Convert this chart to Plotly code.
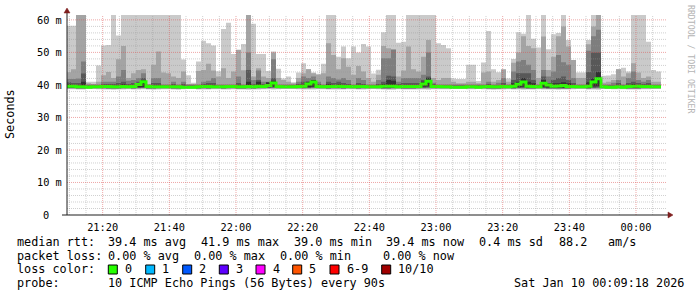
import plotly.graph_objects as go
import pandas as pd

# ---------------- data (ms), one value per 90 s step ----------------
p10 = [58.2, 58.2, 62, 62, 41.0, 41.0, 46.0, 52.1, 52.3, 62,
       55.2, 62, 62, 62, 62, 62, 62, 62, 62, 62,
       62, 62, 62, 47.8, 43.0, 40.7, 47.2, 53.6, 52.8, 52.1,
       44.2, 57.2, 59.1, 49.5, 50.5, 52.6, 62, 58.8, 49.5, 49.5,
       44.3, 50.3, 45.0, 42.0, 42.6, 40.8, 43.8, 46.7, 44.9, 43.8,
       43.4, 46.5, 62, 62, 48.7, 51.8, 48.2, 51.8, 50.0, 52.6,
       51.8, 43.5, 44.7, 56.2, 62, 62, 53.0, 53.3, 62, 62,
       62, 62, 62, 62, 52.8, 52.3, 51.3, 42.0, 41.8, 41.8,
       46.2, 46.2, 41.2, 46.9, 56.6, 44.8, 43.9, 44.6, 42.0, 48.0,
       56.2, 55.7, 62, 54.2, 51.5, 62, 51.0, 55.6, 56.0, 62,
       53.8, 47.7, 43.8, 43.8, 53.8, 62, 62, 42.8, 42.9, 43.3,
       44.9, 45.3, 44.1, 62, 62, 62, 53.3, 44.6, 44.1]
p9 = [43.9, 44.8, 61.5, 61.5, 40.5, 40.3, 41.0, 43.0, 44.0, 42.1,
      47.9, 52.0, 42.1, 43.6, 44.6, 44.8, 40.2, 46.2, 50.3, 43.8,
      43.6, 42.6, 42.1, 44.1, 40.3, 40.2, 44.3, 44.6, 46.5, 44.4,
      42.6, 45.1, 42.1, 44.1, 50.8, 44.5, 61.5, 42.6, 45.1, 42.6,
      42.1, 50.0, 42.1, 41.5, 41.0, 40.5, 42.1, 43.6, 44.8, 43.6,
      43.1, 43.6, 52.8, 49.2, 44.8, 48.2, 45.6, 43.1, 45.8, 44.1,
      42.1, 41.0, 43.1, 52.0, 51.3, 51.0, 42.6, 44.4, 51.8, 44.8,
      44.1, 48.7, 53.8, 42.1, 41.5, 42.1, 42.1, 41.0, 40.5, 40.5,
      41.0, 41.0, 40.5, 43.8, 44.1, 41.0, 41.5, 44.8, 41.0, 46.8,
      50.0, 55.0, 52.0, 51.3, 42.1, 54.9, 44.6, 48.7, 55.0, 58.0,
      51.8, 47.7, 42.1, 42.1, 52.5, 58.0, 61.5, 40.7, 41.0, 41.5,
      44.8, 42.6, 43.6, 46.7, 43.8, 42.1, 42.6, 41.0, 41.0]
p8 = [41.8, 41.8, 42.0, 47.2, 40.1, 40.1, 40.1, 41.0, 41.0, 41.0,
      42.6, 44.6, 41.3, 41.5, 42.1, 43.6, 40.1, 42.1, 42.1, 40.1,
      40.1, 41.0, 40.1, 41.0, 40.1, 40.1, 40.1, 41.0, 41.3, 42.1,
      40.1, 40.1, 40.1, 40.1, 42.6, 40.1, 50.0, 41.5, 44.4, 41.0,
      41.0, 47.9, 40.1, 40.1, 40.1, 40.1, 41.0, 42.6, 42.1, 42.6,
      41.0, 40.1, 42.6, 42.1, 41.7, 42.1, 41.5, 40.1, 42.1, 41.5,
      40.1, 40.1, 41.5, 48.2, 48.2, 50.8, 41.0, 42.1, 42.1, 42.1,
      42.1, 43.1, 50.0, 40.7, 40.1, 40.1, 40.1, 40.1, 40.1, 40.1,
      40.1, 40.1, 40.1, 40.1, 41.0, 40.1, 40.7, 42.1, 40.1, 44.1,
      47.2, 47.7, 46.2, 44.6, 40.1, 44.6, 42.6, 44.1, 49.2, 47.0,
      46.2, 42.1, 40.1, 40.1, 50.5, 55.0, 57.0, 40.1, 40.1, 40.7,
      41.5, 40.1, 42.1, 44.1, 41.5, 41.0, 41.5, 40.1, 40.1]
p7 = [40.8, 40.6, 40.6, 43.5, 39.85, 39.85, 39.85, 40.3, 40.3, 40.3,
      40.6, 41.0, 40.3, 40.6, 41.0, 42.1, 39.85, 40.6, 40.6, 39.85,
      39.85, 40.3, 39.85, 40.3, 39.85, 39.85, 39.85, 40.3, 40.6, 40.6,
      39.85, 39.85, 39.85, 39.85, 40.6, 39.85, 44.6, 40.3, 41.5, 40.3,
      40.6, 42.1, 39.85, 39.85, 39.85, 39.85, 40.3, 41.0, 41.0, 41.3,
      40.3, 39.85, 41.0, 40.6, 41.0, 40.6, 40.3, 39.85, 40.6, 40.3,
      39.85, 39.85, 40.3, 41.0, 42.8, 42.6, 40.3, 40.6, 40.6, 40.6,
      40.6, 41.5, 42.6, 40.3, 39.85, 39.85, 39.85, 39.85, 39.85, 39.85,
      39.85, 39.85, 39.85, 39.85, 40.3, 39.85, 39.85, 40.6, 39.85, 41.5,
      43.6, 43.6, 43.6, 41.5, 39.85, 42.6, 40.6, 41.5, 42.1, 42.6,
      41.5, 40.6, 39.85, 39.85, 44.0, 50.0, 50.0, 39.85, 39.85, 39.85,
      40.6, 39.85, 40.6, 41.0, 40.6, 40.3, 40.6, 39.85, 39.85]
p6 = [40.2, 39.8, 39.8, 41.0, 39.7, 39.7, 39.7, 39.7, 39.7, 39.7,
      39.8, 40.2, 39.7, 39.8, 40.5, 41.5, 39.7, 39.8, 39.8, 39.7,
      39.7, 39.7, 39.7, 39.7, 39.7, 39.7, 39.7, 39.7, 39.8, 39.8,
      39.7, 39.7, 39.7, 39.7, 39.8, 39.7, 41.0, 39.7, 41.0, 39.7,
      40.8, 41.3, 39.7, 39.7, 39.7, 39.7, 39.7, 40.2, 41.0, 41.5,
      39.7, 39.7, 40.2, 39.8, 40.2, 39.8, 39.7, 39.7, 39.8, 39.7,
      39.7, 39.7, 39.7, 40.3, 41.5, 41.3, 39.7, 39.8, 39.8, 39.8,
      39.8, 41.0, 42.1, 39.7, 39.7, 39.7, 39.7, 39.7, 39.7, 39.7,
      39.7, 39.7, 39.7, 39.7, 39.7, 39.7, 39.7, 39.8, 39.7, 40.5,
      41.0, 42.1, 41.0, 40.5, 39.7, 41.5, 40.5, 40.5, 40.5, 40.8,
      40.5, 39.7, 39.7, 39.7, 40.8, 42.0, 44.0, 39.7, 39.7, 39.7,
      39.7, 39.7, 39.8, 40.3, 39.8, 39.7, 39.8, 39.7, 39.7]
median = [39.6, 39.6, 39.4, 39.4, 39.3, 39.4, 39.4, 39.5, 39.5, 39.4,
          39.4, 39.5, 39.4, 39.5, 40.1, 41.0, 39.5, 39.4, 39.4, 39.4,
          39.4, 39.4, 39.4, 39.3, 39.3, 39.3, 39.4, 39.5, 39.5, 39.4,
          39.4, 39.4, 39.5, 39.5, 39.4, 39.4, 39.5, 39.4, 39.6, 39.5,
          39.8, 40.6, 39.5, 39.4, 39.4, 39.4, 39.5, 39.6, 40.3, 40.9,
          39.5, 39.4, 39.5, 39.5, 39.6, 39.5, 39.5, 39.4, 39.5, 39.5,
          39.4, 39.4, 39.4, 39.6, 39.6, 39.6, 39.4, 39.5, 39.5, 39.5,
          39.5, 40.3, 41.1, 39.5, 39.5, 39.4, 39.4, 39.3, 39.3, 39.3,
          39.4, 39.4, 39.3, 39.4, 39.5, 39.4, 39.4, 39.5, 39.4, 39.6,
          40.2, 40.9, 39.6, 39.5, 39.4, 40.5, 40.0, 39.6, 39.7, 39.8,
          39.5, 39.5, 39.4, 39.4, 39.6, 40.9, 41.9, 39.4, 39.3, 39.3,
          39.4, 39.3, 39.5, 39.6, 39.6, 39.5, 39.5, 39.4, 39.4]
p5 = [39.2, 39.2, 39.1, 39.1, 39.2, 39.2, 39.2, 39.2, 39.1, 39.1,
      39.1, 39.2, 39.2, 39.1, 39.3, 39.3, 39.1, 39.1, 39.2, 39.2,
      39.2, 39.1, 39.1, 39.2, 39.2, 39.2, 39.1, 39.2, 39.1, 39.2,
      39.2, 39.1, 39.2, 39.2, 39.1, 39.1, 39.2, 39.1, 39.2, 39.2,
      39.3, 39.4, 39.2, 39.2, 39.2, 39.2, 39.2, 39.2, 39.3, 39.4,
      39.2, 39.2, 39.1, 39.2, 39.2, 39.1, 39.2, 39.2, 39.1, 39.2,
      39.2, 39.2, 39.2, 39.1, 39.1, 39.2, 39.2, 39.1, 39.1, 39.1,
      39.2, 39.4, 39.5, 39.2, 39.2, 39.2, 39.2, 39.2, 39.2, 39.2,
      39.2, 39.2, 39.2, 39.2, 39.1, 39.1, 39.1, 39.2, 39.2, 39.1,
      39.3, 39.4, 39.1, 39.1, 39.2, 39.3, 39.2, 39.1, 39.1, 39.1,
      39.1, 39.2, 39.2, 39.2, 39.1, 39.5, 39.6, 39.2, 39.2, 39.2,
      39.2, 39.2, 39.1, 39.1, 39.1, 39.2, 39.2, 39.2, 39.2]
p4 = [39.1, 39.1, 39.0, 39.0, 39.1, 39.1, 39.1, 39.1, 39.0, 39.0,
      39.0, 39.1, 39.1, 39.0, 39.1, 39.2, 39.0, 39.0, 39.1, 39.1,
      39.1, 39.0, 39.0, 39.1, 39.1, 39.1, 39.0, 39.1, 39.0, 39.1,
      39.1, 39.0, 39.1, 39.1, 39.0, 39.0, 39.1, 39.0, 39.1, 39.1,
      39.2, 39.2, 39.1, 39.1, 39.1, 39.1, 39.1, 39.1, 39.1, 39.2,
      39.1, 39.1, 39.0, 39.1, 39.1, 39.0, 39.1, 39.1, 39.0, 39.1,
      39.1, 39.1, 39.1, 39.0, 39.0, 39.1, 39.1, 39.0, 39.0, 39.0,
      39.1, 39.1, 39.2, 39.1, 39.1, 39.1, 39.1, 39.1, 39.1, 39.1,
      39.1, 39.1, 39.1, 39.1, 39.0, 39.0, 39.0, 39.1, 39.1, 39.0,
      39.1, 39.1, 39.0, 39.0, 39.1, 39.1, 39.0, 39.0, 39.0, 39.0,
      39.0, 39.1, 39.1, 39.1, 39.0, 39.1, 39.2, 39.1, 39.1, 39.1,
      39.1, 39.1, 39.0, 39.0, 39.0, 39.1, 39.1, 39.1, 39.1]
p3 = [39.0, 39.0, 38.9, 38.9, 39.0, 39.0, 39.0, 39.0, 38.9, 38.9,
      38.9, 39.0, 39.0, 38.9, 39.0, 39.1, 38.9, 38.9, 39.0, 39.0,
      39.0, 38.9, 38.9, 39.0, 39.0, 39.0, 38.9, 39.0, 38.9, 39.0,
      39.0, 38.9, 39.0, 39.0, 38.9, 38.9, 39.0, 38.9, 39.0, 39.0,
      39.1, 39.1, 39.0, 39.0, 39.0, 39.0, 39.0, 39.0, 39.0, 39.1,
      39.0, 39.0, 38.9, 39.0, 39.0, 38.9, 39.0, 39.0, 38.9, 39.0,
      39.0, 39.0, 39.0, 38.9, 38.9, 39.0, 39.0, 38.9, 38.9, 38.9,
      39.0, 39.0, 39.1, 39.0, 39.0, 39.0, 39.0, 39.0, 39.0, 39.0,
      39.0, 39.0, 39.0, 39.0, 38.9, 38.9, 38.9, 39.0, 39.0, 38.9,
      39.0, 39.0, 38.9, 38.9, 39.0, 39.0, 38.9, 38.9, 38.9, 38.9,
      38.9, 39.0, 39.0, 39.0, 38.9, 39.0, 39.1, 39.0, 39.0, 39.0,
      39.0, 39.0, 38.9, 38.9, 38.9, 39.0, 39.0, 39.0, 39.0]
p2 = [38.9, 38.9, 38.8, 38.8, 38.9, 38.9, 38.9, 38.8, 38.8, 38.8,
      38.8, 38.8, 38.9, 38.8, 38.9, 38.9, 38.8, 38.8, 38.8, 38.9,
      38.9, 38.8, 38.8, 38.9, 38.9, 38.9, 38.8, 38.8, 38.8, 38.9,
      38.9, 38.8, 38.8, 38.9, 38.8, 38.8, 38.8, 38.8, 38.9, 38.9,
      38.9, 38.9, 38.9, 38.9, 38.9, 38.9, 38.9, 38.8, 38.9, 38.9,
      38.9, 38.9, 38.8, 38.8, 38.8, 38.8, 38.9, 38.9, 38.8, 38.8,
      38.9, 38.9, 38.9, 38.8, 38.8, 38.8, 38.9, 38.8, 38.8, 38.8,
      38.8, 38.9, 38.8, 38.9, 38.9, 38.9, 38.9, 38.9, 38.9, 38.9,
      38.9, 38.9, 38.9, 38.9, 38.8, 38.8, 38.8, 38.8, 38.9, 38.8,
      38.9, 38.8, 38.8, 38.8, 38.9, 38.8, 38.8, 38.8, 38.8, 38.8,
      38.8, 38.9, 38.9, 38.9, 38.8, 38.9, 38.8, 38.9, 38.9, 38.9,
      38.9, 38.9, 38.8, 38.8, 38.8, 38.9, 38.9, 38.9, 38.9]
p1 = [38.7, 38.7, 38.6, 38.6, 38.8, 38.8, 38.7, 38.6, 38.6, 38.5,
      38.6, 38.6, 38.7, 38.6, 38.6, 38.7, 38.6, 38.5, 38.6, 38.7,
      38.7, 38.6, 38.5, 38.7, 38.8, 38.8, 38.6, 38.6, 38.6, 38.7,
      38.7, 38.6, 38.6, 38.7, 38.6, 38.6, 38.5, 38.6, 38.6, 38.7,
      38.7, 38.6, 38.7, 38.8, 38.8, 38.8, 38.7, 38.6, 38.6, 38.6,
      38.7, 38.7, 38.6, 38.6, 38.6, 38.6, 38.7, 38.7, 38.6, 38.6,
      38.7, 38.8, 38.7, 38.6, 38.5, 38.5, 38.7, 38.6, 38.6, 38.6,
      38.6, 38.6, 38.5, 38.7, 38.7, 38.7, 38.7, 38.8, 38.8, 38.8,
      38.7, 38.7, 38.8, 38.7, 38.6, 38.5, 38.6, 38.6, 38.7, 38.6,
      38.6, 38.5, 38.6, 38.6, 38.7, 38.6, 38.6, 38.6, 38.5, 38.6,
      38.6, 38.7, 38.8, 38.8, 38.6, 38.6, 38.5, 38.8, 38.8, 38.7,
      38.7, 38.7, 38.6, 38.6, 38.6, 38.7, 38.7, 38.8, 38.8]

for arr in (p10, p9, p8, p7, p6, median, p5, p4, p3, p2, p1):
    assert len(arr) == 119, len(arr)

y_ticks = [0, 10, 20, 30, 40, 50, 60]
y_ticklabels = ["0", "10 m", "20 m", "30 m", "40 m", "50 m", "60 m"]
x_ticks = ["2026-01-09 21:20", "2026-01-09 21:40", "2026-01-09 22:00", "2026-01-09 22:20",
           "2026-01-09 22:40", "2026-01-09 23:00", "2026-01-09 23:20", "2026-01-09 23:40",
           "2026-01-10 00:00"]
x_ticklabels = ["21:20", "21:40", "22:00", "22:20", "22:40", "23:00", "23:20", "23:40", "00:00"]

stats_rtt = [("median rtt:", 16), ("39.4 ms avg", 107), ("41.9 ms max", 200), ("39.0 ms min", 292.7),
             ("39.4 ms now", 385), ("0.4 ms sd", 478.3), ("88.2", 558.3), ("am/s", 606.7)]
stats_loss = [("packet loss:", 16), ("0.00 % avg", 107.3), ("0.00 % max", 193.3),
              ("0.00 % min", 279.3), ("0.00 % now", 381.7)]
loss_labels = ["0", "1", "2", "3", "4", "5", "6-9", "10/10"]
loss_colors = ["#26ff00", "#00b8ff", "#0059ff", "#5e00ff", "#ff00ff", "#ff5500", "#ff0000", "#a10000"]
loss_box_x = [108.3, 145.7, 182.7, 219.3, 256, 292.7, 330, 381.7]
probe_text = "10 ICMP Echo Pings (56 Bytes) every 90s"
date_text = "Sat Jan 10 00:09:18 2026"

# ---------------- geometry helpers ----------------
W, H = 697, 297
PL, PT, PW, PH = 67, 15, 600, 200
def pxx(x): return (x - PL) / PW
def pxy(y): return (PT + PH - y) / PH

MONO = "DejaVu Sans Mono"
MINOR = "rgba(150,150,150,0.45)"
MAJOR = "rgba(222,79,79,0.5)"

start = pd.Timestamp("2026-01-09 21:09:00")
times = [start + pd.Timedelta(seconds=90 * i) for i in range(len(p10) + 1)]
def ext(a): return list(a) + [a[-1]]

fig = go.Figure()
bands = [(p1, p10, "#cacaca"), (p2, p9, "#a4a4a4"), (p3, p8, "#7e7e7e"),
         (p4, p7, "#585858"), (p5, p6, "#323232")]
for lo, hi, col in bands:
    fig.add_trace(go.Scatter(x=times, y=ext(lo), mode="lines",
                             line=dict(width=0, shape="hv"), hoverinfo="skip", showlegend=False))
    fig.add_trace(go.Scatter(x=times, y=ext(hi), mode="lines", fill="tonexty", fillcolor=col,
                             line=dict(width=0, shape="hv"), hoverinfo="skip", showlegend=False))
fig.add_trace(go.Scatter(x=times, y=ext(median), mode="lines",
                         line=dict(color="#26ff00", width=3, shape="hv"),
                         hoverinfo="skip", showlegend=False))

shapes = []
minor_x = [t for t in pd.date_range("2026-01-09 21:10", "2026-01-10 00:05", freq="5min")
           if t.minute % 20 != 0]
for t in minor_x:
    shapes.append(dict(type="line", xref="x", yref="paper", x0=t, x1=t, y0=0, y1=1, layer="above",
                       line=dict(color=MINOR, width=1, dash="1px,1px")))
for v in range(2, 61, 2):
    if v % 10:
        shapes.append(dict(type="line", xref="paper", yref="y", x0=0, x1=1, y0=v, y1=v, layer="above",
                           line=dict(color=MINOR, width=1, dash="1px,1px")))
for t in x_ticks:
    shapes.append(dict(type="line", xref="x", yref="paper", x0=t, x1=t, y0=0, y1=1, layer="above",
                       line=dict(color=MAJOR, width=1, dash="1px,1px")))
for v in y_ticks[1:]:
    shapes.append(dict(type="line", xref="paper", yref="y", x0=0, x1=1, y0=v, y1=v, layer="above",
                       line=dict(color=MAJOR, width=1, dash="1px,1px")))
# axes + arrows
shapes.append(dict(type="line", xref="paper", yref="paper", x0=0, x1=0, y0=0, y1=pxy(12),
                   layer="above", line=dict(color="#1f1f1f", width=1)))
shapes.append(dict(type="line", xref="paper", yref="paper", x0=pxx(62), x1=pxx(669), y0=0, y1=0,
                   layer="above", line=dict(color="#1f1f1f", width=1)))
shapes.append(dict(type="path", xref="paper", yref="paper", xsizemode="pixel", ysizemode="pixel",
                   xanchor=0, yanchor=1, path="M -3,2 L 3,2 L 0,7 Z", layer="above",
                   fillcolor="#7f1f1f", line=dict(color="#7f1f1f", width=0.5)))
shapes.append(dict(type="path", xref="paper", yref="paper", xsizemode="pixel", ysizemode="pixel",
                   xanchor=1, yanchor=0, path="M 1,-3 L 1,3 L 6,0 Z", layer="above",
                   fillcolor="#7f1f1f", line=dict(color="#7f1f1f", width=0.5)))
for bx, col in zip(loss_box_x, loss_colors):
    shapes.append(dict(type="rect", xref="paper", yref="paper", x0=pxx(bx), x1=pxx(bx + 9),
                       y0=pxy(274), y1=pxy(265), fillcolor=col, line=dict(color="#000000", width=1)))

ann = []
def txt(s, x, y, size=11.8, color="#000000", angle=0, xanchor="left", yref="paper"):
    ann.append(dict(text=s, x=pxx(x), y=(pxy(y) if yref == "paper" else y), xref="paper",
                    yref=yref, showarrow=False,
                    xanchor=xanchor, yanchor="middle", borderpad=0, textangle=angle,
                    font=dict(family=MONO, size=size, color=color)))
# y tick labels (monospace, "0" sits under the digits column of "60 m")
for v, lab in zip(y_ticks, y_ticklabels):
    ann.append(dict(text=lab, x=pxx(36), y=v, xref="paper", yref="y", showarrow=False,
                    xanchor="left", yanchor="middle", borderpad=0,
                    font=dict(family=MONO, size=10.3, color="#000000")))
    if lab == "0":
        ann[-1]["x"] = pxx(42.2)
for s, x in stats_rtt:
    txt(s, x, 241.5)
for s, x in stats_loss:
    txt(s, x, 255.5)
txt("loss color:", 16, 269.3)
for bx, lab in zip(loss_box_x, loss_labels):
    txt(lab, bx + 15.5, 269.3)
txt("probe:", 16, 283.3)
txt(probe_text, 107.3, 283.3)
txt(date_text, 513.3, 283.3)
txt("Seconds", 10, 114, angle=-90, xanchor="center")
txt("RRDTOOL / TOBI OETIKER", 691, 59, size=8.2, color="#b4b4b4", angle=90, xanchor="center")

fig.update_layout(
    width=W, height=H, margin=dict(l=PL, r=W - PL - PW, t=PT, b=H - PT - PH),
    paper_bgcolor="#ffffff", plot_bgcolor="#ffffff", showlegend=False,
    shapes=shapes, annotations=ann,
    xaxis=dict(type="date", range=["2026-01-09 21:09:18", "2026-01-10 00:09:18"],
               tickvals=x_ticks, ticktext=x_ticklabels, showgrid=False, zeroline=False,
               showline=False, ticks="outside", ticklen=3, tickcolor="rgba(0,0,0,0)",
               tickfont=dict(family=MONO, size=10.3, color="#000000")),
    yaxis=dict(range=[0, 61.5], tickvals=y_ticks, showticklabels=False, showgrid=False,
               zeroline=False, showline=False, ticks=""),
)
fig.write_html("out.html")
